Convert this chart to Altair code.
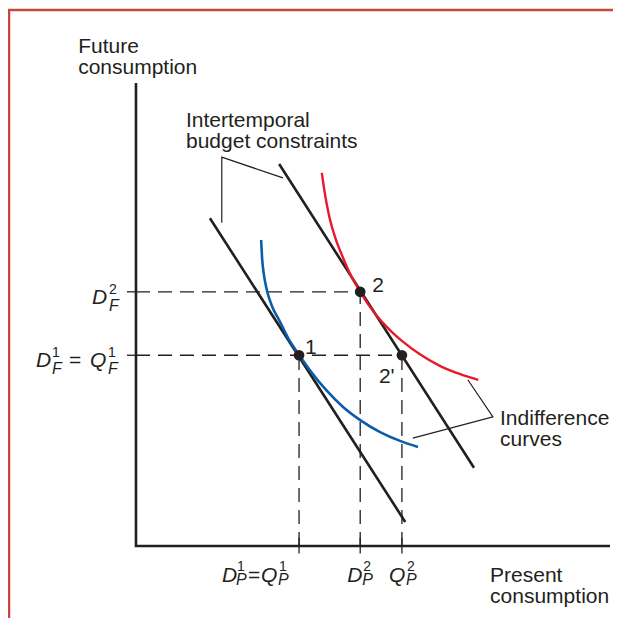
import altair as alt
import pandas as pd

# ---------------- data (economic units, origin at axes crossing) ----------------
axis_len = [100, 100]                      # x-axis length, y-axis length
x_ticks = [34.4, 47.3, 56.1]               # D_P^1=Q_P^1, D_P^2, Q_P^2
y_ticks = [41.2, 54.9]                     # D_F^1=Q_F^1, D_F^2

point_names = ["1", "2", "2'"]
point_x = [34.4, 47.3, 56.1]
point_y = [41.2, 54.9, 41.2]

budget1_x = [15.6, 56.8]
budget1_y = [70.8, 5.2]
budget2_x = [30.2, 71.3]
budget2_y = [82.5, 16.9]

blue_x = [26.4, 26.6, 27.0, 27.6, 28.7, 30.2, 32.1, 34.4, 37.1, 40.1, 43.5, 47.3, 51.5, 55.7, 59.5]
blue_y = [66.1, 62.2, 58.5, 55.3, 51.8, 48.8, 44.9, 41.3, 37.4, 33.7, 30.2, 27.2, 24.6, 22.7, 21.4]

red_x = [39.2, 39.9, 40.7, 42.0, 43.7, 45.4, 47.3, 49.4, 51.9, 54.0, 56.1, 59.9, 64.1, 68.4, 72.2]
red_y = [80.6, 75.8, 71.5, 66.7, 62.2, 58.3, 54.9, 51.6, 48.4, 46.2, 44.3, 41.4, 38.9, 37.1, 35.9]

bracket_budget_x = [18.1, 18.1, 31.0]
bracket_budget_y = [69.8, 84.0, 79.5]
bracket_indiff_x = [70.0, 75.3, 58.4]
bracket_indiff_y = [35.9, 27.9, 23.3]

titles = ["Future\nconsumption", "Intertemporal\nbudget constraints",
          "Indifference\ncurves", "Present\nconsumption"]
title_x = [-12.2, 10.55, 76.8, 74.7]
title_y = [106.5, 90.5, 26.1, -7.8]

# ---------------- layout ----------------
W, H = 605, 610
XDOM = [-27.0, 100.63]
YDOM = [-15.55, 116.2]
INK = "#231f20"
RED = "#e8192c"
BLUE = "#0b5cab"
FONT = "Liberation Sans"

xs = alt.Scale(domain=XDOM, nice=False, zero=False)
ys = alt.Scale(domain=YDOM, nice=False, zero=False)


def X(f="x"):
    return alt.X(f"{f}:Q", scale=xs, axis=None)


def Y(f="y"):
    return alt.Y(f"{f}:Q", scale=ys, axis=None)


layers = []

# border of the figure panel
one = pd.DataFrame({"a": [0]})
layers.append(alt.Chart(one).mark_rule(color="#c9463d", strokeWidth=2.5).encode(
    x=alt.value(1), y=alt.value(1), y2=alt.value(H)))
layers.append(alt.Chart(one).mark_rule(color="#c9463d", strokeWidth=2.5).encode(
    y=alt.value(2), x=alt.value(0), x2=alt.value(W)))

# dashed guide lines
h_dash = pd.DataFrame({"x": [0, 0], "x2": [point_x[1], point_x[2]], "y": [y_ticks[1], y_ticks[0]]})
v_dash = pd.DataFrame({"x": point_x, "y": [0, 0, 0], "y2": point_y})
layers.append(alt.Chart(h_dash).mark_rule(color=INK, strokeWidth=1.3, strokeDash=[14, 8]).encode(
    x=X(), x2="x2:Q", y=Y()))
layers.append(alt.Chart(v_dash).mark_rule(color=INK, strokeWidth=1.3, strokeDash=[14, 8]).encode(
    x=X(), y=Y(), y2="y2:Q"))

# axes
axes_df = pd.DataFrame({"x": [0, 0, axis_len[0]], "y": [axis_len[1], 0, 0], "o": [0, 1, 2]})
layers.append(alt.Chart(axes_df).mark_line(color=INK, strokeWidth=2.6, strokeJoin="miter").encode(
    x=X(), y=Y(), order="o:Q"))

# ticks
xt = pd.DataFrame({"x": x_ticks, "y": [1.8] * 3, "y2": [-1.6] * 3})
yt = pd.DataFrame({"y": y_ticks, "x": [-1.9] * 2, "x2": [0] * 2})
layers.append(alt.Chart(xt).mark_rule(color=INK, strokeWidth=1.3).encode(x=X(), y=Y(), y2="y2:Q"))
layers.append(alt.Chart(yt).mark_rule(color=INK, strokeWidth=1.3).encode(y=Y(), x=X(), x2="x2:Q"))

# budget constraints
bud = pd.DataFrame({"x": budget1_x + budget2_x, "y": budget1_y + budget2_y,
                    "k": ["b1", "b1", "b2", "b2"]})
layers.append(alt.Chart(bud).mark_line(color=INK, strokeWidth=2.6).encode(
    x=X(), y=Y(), detail="k:N"))

# indifference curves
layers.append(alt.Chart(pd.DataFrame({"x": blue_x, "y": blue_y})).mark_line(
    color=BLUE, strokeWidth=2.6, interpolate="monotone").encode(x=X(), y=Y()))
layers.append(alt.Chart(pd.DataFrame({"x": red_x, "y": red_y})).mark_line(
    color=RED, strokeWidth=2.4, interpolate="monotone").encode(x=X(), y=Y()))

# leader brackets
for bx, by in [(bracket_budget_x, bracket_budget_y), (bracket_indiff_x, bracket_indiff_y)]:
    d = pd.DataFrame({"x": bx, "y": by, "o": list(range(len(bx)))})
    layers.append(alt.Chart(d).mark_line(color=INK, strokeWidth=1.2, strokeJoin="miter").encode(
        x=X(), y=Y(), order="o:Q"))

# equilibrium points
pts = pd.DataFrame({"x": point_x, "y": point_y, "n": point_names})
layers.append(alt.Chart(pts).mark_point(filled=True, color=INK, size=115, opacity=1).encode(
    x=X(), y=Y()))

# point labels
pl_dx = [6, 12, -23]
pl_dy = [-1, 0, 28]
for i in range(3):
    d = pts.iloc[[i]]
    layers.append(alt.Chart(d).mark_text(font=FONT, fontSize=21, color=INK, align="left",
                                         baseline="alphabetic", dx=pl_dx[i], dy=pl_dy[i]).encode(
        x=X(), y=Y(), text="n:N"))

# titles
tdf = pd.DataFrame({"x": title_x, "y": title_y, "t": titles})
layers.append(alt.Chart(tdf).mark_text(font=FONT, fontSize=21, color=INK, align="left",
                                       baseline="alphabetic", lineBreak="\n", lineHeight=21).encode(
    x=X(), y=Y(), text="t:N"))


# tick labels built from pieces (letter, superscript, subscript)
def piece(x, y, text, dx, dy, size, italic):
    d = pd.DataFrame({"x": [x], "y": [y], "t": [text]})
    return alt.Chart(d).mark_text(font=FONT, fontSize=size, color=INK, align="left",
                                  baseline="alphabetic", dx=dx, dy=dy,
                                  fontStyle="italic" if italic else "normal").encode(
        x=X(), y=Y(), text="t:N")


BIG, SUP, SUB = 21, 14, 16
# x-axis labels
xa, xb, xc = x_ticks
layers += [
    piece(xa, 0, "D", -77, 36, BIG, True), piece(xa, 0, "1", -62, 25, SUP, False),
    piece(xa, 0, "P", -63, 39, SUB, True), piece(xa, 0, "=", -51, 36, BIG, False),
    piece(xa, 0, "Q", -38, 36, BIG, True), piece(xa, 0, "1", -20, 25, SUP, False),
    piece(xa, 0, "P", -21, 39, SUB, True),
    piece(xb, 0, "D", -13, 36, BIG, True), piece(xb, 0, "2", 3, 25, SUP, False),
    piece(xb, 0, "P", 2, 39, SUB, True),
    piece(xc, 0, "Q", -13, 36, BIG, True), piece(xc, 0, "2", 5, 25, SUP, False),
    piece(xc, 0, "P", 4, 39, SUB, True),
]

# y-axis labels
ya, yb = y_ticks
layers += [
    piece(0, yb, "D", -44, 12, BIG, True), piece(0, yb, "2", -27, 2, SUP, False),
    piece(0, yb, "F", -27, 19, SUB, True),
    piece(0, ya, "D", -100, 12, BIG, True), piece(0, ya, "1", -84, 2, SUP, False),
    piece(0, ya, "F", -84, 19, SUB, True), piece(0, ya, "=", -67, 12, BIG, False),
    piece(0, ya, "Q", -46, 12, BIG, True), piece(0, ya, "1", -28, 2, SUP, False),
    piece(0, ya, "F", -28, 19, SUB, True),
]

chart = alt.layer(*layers).properties(
    width=W, height=H, padding=0, autosize=alt.AutoSizeParams(type="none"),
    background="white",
).configure_view(strokeWidth=0)

chart.save("out.html", embed_options={"renderer": "svg", "actions": False})
